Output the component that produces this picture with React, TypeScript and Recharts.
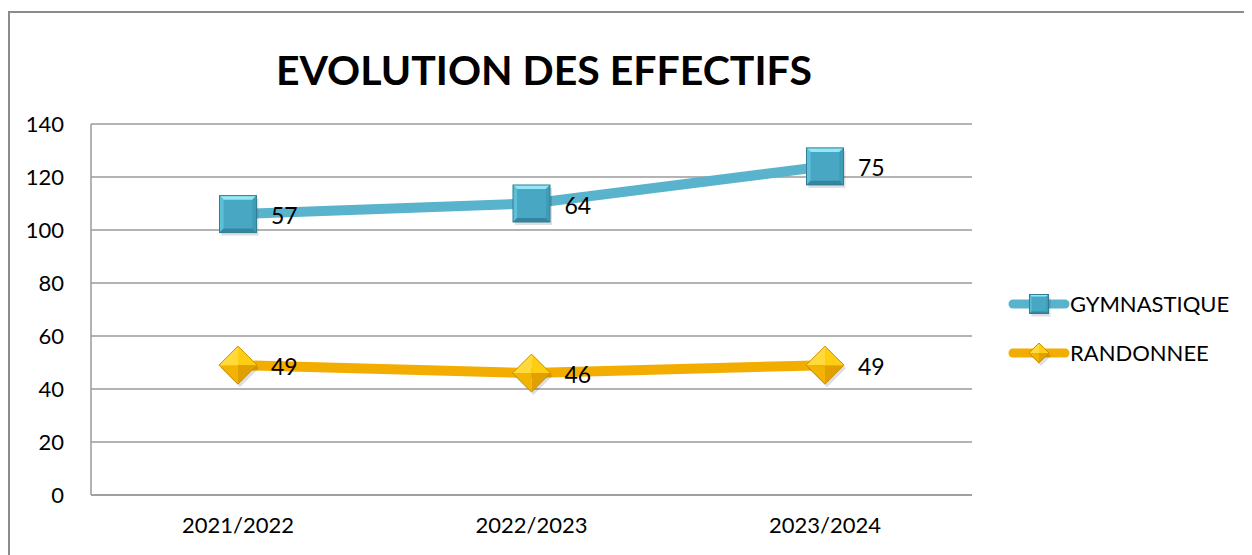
import { CartesianGrid, LabelList, Legend, Line, LineChart, XAxis, YAxis } from "recharts";

const categories = ["2021/2022", "2022/2023", "2023/2024"];
const gymnastique = [57, 64, 75];
const randonnee = [49, 46, 49];
const yTicks = [0, 20, 40, 60, 80, 100, 120, 140];

const BLUE = "#5AB3CC";
const GOLD = "#F2AD00";
const FONT = "Lato, 'Open Sans', sans-serif";

// the original is a stacked line chart: gymnastique sits on top of randonnee
const data = categories.map((year, i) => ({
  year,
  rando: randonnee[i],
  gym: gymnastique[i],
  gymTop: gymnastique[i] + randonnee[i],
}));

function SquareDot({ cx, cy, size = 37 }: { cx: number; cy: number; size?: number }) {
  const h = size / 2;
  const b = size * 0.11;
  const x0 = cx - h, y0 = cy - h, x1 = cx + h, y1 = cy + h;
  return (
    <g>
      <rect x={x0 + 2} y={y0 + 3} width={size} height={size} fill="#000" opacity={0.13} />
      <rect x={x0} y={y0} width={size} height={size} fill="#48A8C3" />
      <polygon points={`${x0},${y0} ${x1},${y0} ${x1 - b},${y0 + b} ${x0 + b},${y0 + b}`} fill="#92E8F6" />
      <polygon points={`${x0},${y0} ${x0 + b},${y0 + b} ${x0 + b},${y1 - b} ${x0},${y1}`} fill="#5DBFD8" />
      <polygon points={`${x1},${y0} ${x1},${y1} ${x1 - b},${y1 - b} ${x1 - b},${y0 + b}`} fill="#3E9CB6" />
      <polygon points={`${x0},${y1} ${x1},${y1} ${x1 - b},${y1 - b} ${x0 + b},${y1 - b}`} fill="#3585A0" />
      <rect x={x0} y={y0} width={size} height={size} fill="none" stroke="#2F7E96" strokeWidth={1} />
    </g>
  );
}

function DiamondDot({ cx, cy, size = 38 }: { cx: number; cy: number; size?: number }) {
  const h = size / 2;
  const t = `${cx},${cy - h}`, r = `${cx + h},${cy}`, bt = `${cx},${cy + h}`, l = `${cx - h},${cy}`;
  const c = `${cx},${cy}`;
  return (
    <g>
      <polygon points={`${cx + 2},${cy - h + 3} ${cx + h + 2},${cy + 3} ${cx + 2},${cy + h + 3} ${cx - h + 2},${cy + 3}`} fill="#000" opacity={0.13} />
      <polygon points={`${t} ${c} ${l}`} fill="#FFDA3A" />
      <polygon points={`${t} ${r} ${c}`} fill="#FFCD12" />
      <polygon points={`${c} ${r} ${bt}`} fill="#E2A000" />
      <polygon points={`${l} ${c} ${bt}`} fill="#F2B400" />
      <polygon points={`${t} ${r} ${bt} ${l}`} fill="none" stroke="#C98E00" strokeWidth={1} />
    </g>
  );
}

const renderLabel = (props: any) => {
  const { x, y, value } = props;
  return (
    <text x={x + 33} y={y + 1} dominantBaseline="central" fontSize={23} fontFamily={FONT} fill="#000">
      {value}
    </text>
  );
};

const legendItems = [
  { name: "GYMNASTIQUE", color: BLUE, square: true },
  { name: "RANDONNEE", color: GOLD, square: false },
];

function LegendContent() {
  return (
    <div style={{ fontFamily: FONT, fontSize: 22, color: "#000" }}>
      {legendItems.map((it) => (
        <div key={it.name} style={{ display: "flex", alignItems: "center", height: 49 }}>
          <svg width={62} height={30} style={{ display: "block" }}>
            <line x1={5} x2={57} y1={15} y2={15} stroke={it.color} strokeWidth={9} strokeLinecap="round" />
            {it.square ? <SquareDot cx={31} cy={15} size={19} /> : <DiamondDot cx={31} cy={15} size={20} />}
          </svg>
          <span>{it.name}</span>
        </div>
      ))}
    </div>
  );
}

export default function App() {
  return (
    <div style={{ position: "relative", width: 1244, height: 547, overflow: "hidden", background: "#fff" }}>
      <div
        style={{
          position: "absolute",
          left: 0,
          top: 3,
          width: 2000,
          height: 2000,
          borderTop: "2px solid #8C8C8C",
          borderLeft: "2px solid #8C8C8C",
        }}
      />
      <svg width={1244} height={110} style={{ position: "absolute", left: 0, top: 0 }}>
        <text x={536} y={77} textAnchor="middle" fontFamily={FONT} fontWeight={700} fontSize={41} fill="#000">
          EVOLUTION DES EFFECTIFS
        </text>
      </svg>
      <LineChart
        width={1244}
        height={547}
        data={data}
        margin={{ top: 116, right: 280, bottom: 0, left: 0 }}
      >
        <CartesianGrid vertical={false} stroke="#9A9A9A" strokeWidth={1.5} />
        <XAxis
          dataKey="year"
          height={60}
          padding={{ left: 147, right: 147 }}
          interval={0}
          tickLine={false}
          tickSize={0}
          tickMargin={22}
          axisLine={{ stroke: "#9A9A9A", strokeWidth: 1.5 }}
          tick={{ fill: "#000", fontSize: 22, fontFamily: FONT }}
        />
        <YAxis
          width={83}
          domain={[0, 140]}
          ticks={yTicks}
          interval={0}
          tickLine={false}
          tickSize={0}
          tickMargin={27}
          axisLine={{ stroke: "#9A9A9A", strokeWidth: 1.5 }}
          tick={{ fill: "#000", fontSize: 22, fontFamily: FONT }}
        />
        <Legend
          layout="horizontal"
          align="center"
          verticalAlign="middle"
          wrapperStyle={{ left: 1000, top: 271, width: 240 }}
          content={() => <LegendContent />}
        />
        <Line
          dataKey="rando"
          stroke={GOLD}
          strokeWidth={10}
          isAnimationActive={false}
          dot={(p: any) => <DiamondDot key={`r${p.index}`} cx={p.cx} cy={p.cy} />}
          activeDot={false}
        >
          <LabelList dataKey="rando" content={renderLabel} />
        </Line>
        <Line
          dataKey="gymTop"
          stroke={BLUE}
          strokeWidth={10}
          isAnimationActive={false}
          dot={(p: any) => <SquareDot key={`g${p.index}`} cx={p.cx} cy={p.cy} />}
          activeDot={false}
        >
          <LabelList dataKey="gym" content={renderLabel} />
        </Line>
      </LineChart>
    </div>
  );
}
